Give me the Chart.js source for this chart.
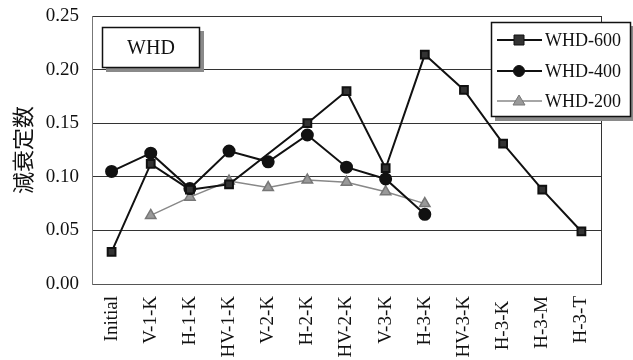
<!DOCTYPE html>
<html>
<head>
<meta charset="utf-8">
<script src="https://cdn.jsdelivr.net/npm/chart.js@4/dist/chart.umd.min.js"></script>
<style>
  html, body { margin: 0; padding: 0; background: #fff; }
  #wrap { width: 633px; height: 360px; }
</style>
</head>
<body>
<div id="wrap"><canvas id="myChart" width="633" height="360"></canvas></div>
<script>
// categories along the x axis
var labels = ['Initial', 'V-1-K', 'H-1-K', 'HV-1-K', 'V-2-K', 'H-2-K', 'HV-2-K',
  'V-3-K', 'H-3-K', 'HV-3-K', 'H-3-K ', 'H-3-M', 'H-3-T'];

// values (null = no point)
var whd600 = [0.030, 0.112, 0.088, 0.093, null, 0.150, 0.180, 0.108, 0.214, 0.181, 0.131, 0.088, 0.049];
var whd400 = [0.105, 0.122, 0.089, 0.124, 0.114, 0.139, 0.109, 0.098, 0.065, null, null, null, null];
var whd200 = [null, 0.064, 0.081, 0.096, 0.090, 0.097, 0.095, 0.086, 0.075, null, null, null, null];

var yTicks = [0, 0.05, 0.10, 0.15, 0.20, 0.25];

var serif = '"Liberation Serif", "DejaVu Serif", serif';

// WHD box, plot frame and the legend box are drawn by hand
var decor = {
  id: 'decor',
  afterDraw: function (chart) {
    var c = chart.ctx;
    var a = chart.chartArea;
    c.save();
    // right edge of the plot
    c.strokeStyle = '#333';
    c.lineWidth = 1;
    c.beginPath();
    c.moveTo(a.right + 0.5, a.top);
    c.lineTo(a.right + 0.5, a.bottom);
    c.stroke();

    // WHD box with shadow
    c.fillStyle = '#8a8a8a';
    c.fillRect(106, 31, 98, 41);
    c.fillStyle = '#fff';
    c.fillRect(102, 27, 98, 41);
    c.strokeStyle = '#111';
    c.lineWidth = 1.5;
    c.strokeRect(102.5, 27.5, 97, 40);
    c.fillStyle = '#111';
    c.font = '20px ' + serif;
    c.textAlign = 'center';
    c.textBaseline = 'middle';
    c.fillText('WHD', 151, 49);

    // legend box with shadow
    c.fillStyle = '#8a8a8a';
    c.fillRect(495, 26, 140, 95);
    c.fillStyle = '#fff';
    c.fillRect(491, 22, 140, 95);
    c.strokeStyle = '#111';
    c.lineWidth = 1.5;
    c.strokeRect(491.5, 22.5, 139, 94);

    var rows = [40, 71, 101];
    chart.data.datasets.forEach(function (ds, i) {
      var y = rows[i];
      c.strokeStyle = ds.borderColor;
      c.lineWidth = ds.borderWidth;
      c.beginPath();
      c.moveTo(497, y);
      c.lineTo(542, y);
      c.stroke();
      c.fillStyle = ds.pointBackgroundColor;
      c.strokeStyle = ds.pointBorderColor;
      c.lineWidth = 1;
      c.beginPath();
      if (ds.pointStyle === 'rect') {
        c.rect(519 - 5, y - 5, 10, 10);
      } else if (ds.pointStyle === 'circle') {
        c.arc(519, y, 5.5, 0, Math.PI * 2);
      } else {
        c.moveTo(519, y - 6);
        c.lineTo(525, y + 4);
        c.lineTo(513, y + 4);
        c.closePath();
      }
      c.fill();
      c.stroke();
      c.fillStyle = '#111';
      c.font = '18px ' + serif;
      c.textAlign = 'left';
      c.textBaseline = 'middle';
      c.fillText(ds.label, 545, y + 1);
    });
    c.restore();
  }
};

var ctx = document.getElementById('myChart').getContext('2d');
var myChart = new Chart(ctx, {
  type: 'line',
  data: {
    labels: labels,
    datasets: [{
      label: 'WHD-600',
      data: whd600,
      borderColor: '#111',
      borderWidth: 2,
      pointStyle: 'rect',
      pointRadius: 5.5,
      pointBackgroundColor: '#333',
      pointBorderColor: '#111',
      spanGaps: true,
      tension: 0
    }, {
      label: 'WHD-400',
      data: whd400,
      borderColor: '#111',
      borderWidth: 2,
      pointStyle: 'circle',
      pointRadius: 5.5,
      pointBackgroundColor: '#111',
      pointBorderColor: '#111',
      spanGaps: false,
      tension: 0
    }, {
      label: 'WHD-200',
      data: whd200,
      borderColor: '#888',
      borderWidth: 1.5,
      pointStyle: 'triangle',
      pointRadius: 6,
      pointBackgroundColor: '#999',
      pointBorderColor: '#777',
      spanGaps: false,
      tension: 0
    }]
  },
  options: {
    responsive: false,
    animation: false,
    layout: { padding: { top: 16, right: 32, left: 0, bottom: 0 } },
    plugins: {
      legend: { display: false },
      tooltip: { enabled: false }
    },
    scales: {
      x: {
        offset: true,
        grid: { display: false, drawTicks: false },
        border: { color: '#555', width: 1 },
        ticks: {
          color: '#111',
          font: { family: serif, size: 19 },
          minRotation: 90,
          maxRotation: 90,
          padding: 12,
          autoSkip: false
        },
        afterFit: function (s) {
          s.height = 76;
          s.paddingLeft = 0;
          s.paddingRight = 0;
        }
      },
      y: {
        min: 0,
        max: 0.25,
        afterBuildTicks: function (s) {
          s.ticks = yTicks.map(function (v) { return { value: v }; });
        },
        grid: { color: '#333', lineWidth: 1, drawTicks: false },
        border: { color: '#777', width: 1 },
        ticks: {
          color: '#111',
          font: { family: serif, size: 19 },
          padding: 13,
          callback: function (v) { return v.toFixed(2); }
        },
        title: {
          display: true,
          text: '減衰定数',
          color: '#111',
          font: { family: '"Noto Sans CJK JP", serif', size: 22 },
          padding: { top: 9, bottom: 0 }
        },
        afterFit: function (s) {
          s.width = 92;
          s.paddingTop = 0;
          s.paddingBottom = 0;
        }
      }
    }
  },
  plugins: [decor]
});
</script>
</body>
</html>
